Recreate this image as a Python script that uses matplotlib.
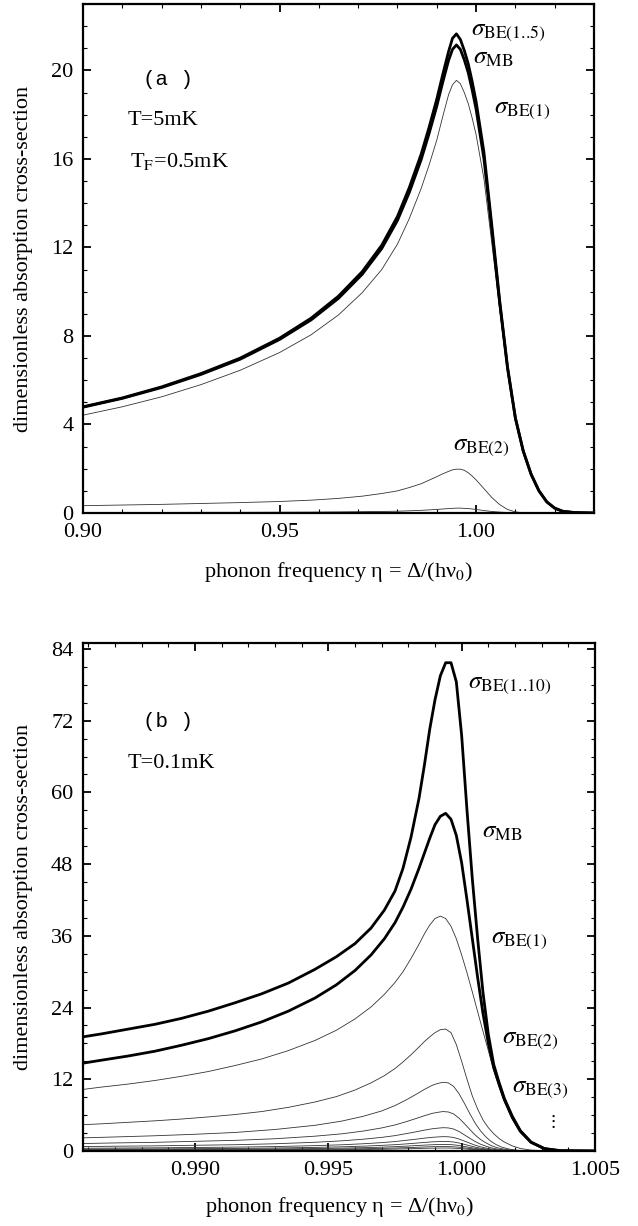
import matplotlib
matplotlib.use('Agg')
import matplotlib.pyplot as plt
from matplotlib.ticker import MultipleLocator

plt.rcParams['font.family'] = ['Liberation Serif', 'DejaVu Serif']
plt.rcParams['mathtext.fontset'] = 'stix'

# ---- panel (a): T = 5 mK ----
eta_a = [0.900, 0.910, 0.920, 0.930, 0.940, 0.950, 0.958, 0.965, 0.971, 0.976,
         0.980, 0.983, 0.986, 0.988, 0.990, 0.9915, 0.993, 0.994, 0.995, 0.996,
         0.997, 0.998, 0.999, 1.000, 1.002, 1.004, 1.006, 1.008, 1.010, 1.012,
         1.014, 1.016, 1.018, 1.020, 1.022, 1.025, 1.030]
be_sum_a = [4.8, 5.2, 5.7, 6.3, 7.0, 7.9, 8.8, 9.8, 10.9, 12.1,
            13.4, 14.7, 16.2, 17.4, 18.7, 19.8, 20.85, 21.45, 21.65, 21.4,
            20.9, 20.3, 19.5, 18.6, 16.3, 13.0, 9.6, 6.6, 4.3, 2.8,
            1.75, 1.0, 0.5, 0.22, 0.08, 0.02, 0.0]
mb_a = [4.78, 5.18, 5.67, 6.26, 6.95, 7.84, 8.72, 9.7, 10.78, 11.95,
        13.22, 14.48, 15.95, 17.12, 18.38, 19.45, 20.45, 20.95, 21.15, 20.95,
        20.48, 19.9, 19.12, 18.25, 16.0, 12.8, 9.5, 6.55, 4.28, 2.8,
        1.75, 1.0, 0.5, 0.22, 0.08, 0.02, 0.0]
be1_a = [4.42, 4.8, 5.25, 5.8, 6.45, 7.25, 8.05, 8.95, 9.95, 11.0,
         12.15, 13.3, 14.65, 15.7, 16.85, 17.9, 18.9, 19.35, 19.55, 19.4,
         19.0, 18.5, 17.85, 17.1, 15.1, 12.2, 9.2, 6.4, 4.2, 2.75,
         1.72, 0.98, 0.49, 0.21, 0.08, 0.02, 0.0]
be2_a = [0.33, 0.36, 0.39, 0.43, 0.47, 0.52, 0.58, 0.66, 0.76, 0.88,
         1.0, 1.15, 1.32, 1.48, 1.64, 1.77, 1.88, 1.95, 1.98, 1.98,
         1.93, 1.82, 1.67, 1.5, 1.1, 0.7, 0.38, 0.16, 0.05, 0.01,
         0.0, 0.0, 0.0, 0.0, 0.0, 0.0, 0.0]
be3_a = [0.02, 0.02, 0.025, 0.03, 0.03, 0.035, 0.04, 0.05, 0.06, 0.07,
         0.08, 0.1, 0.12, 0.14, 0.16, 0.18, 0.2, 0.21, 0.22, 0.22,
         0.21, 0.2, 0.18, 0.16, 0.11, 0.07, 0.04, 0.02, 0.005, 0.0,
         0.0, 0.0, 0.0, 0.0, 0.0, 0.0, 0.0]

# ---- panel (b): T = 0.1 mK, large curves ----
eta_b = [0.9858, 0.9865, 0.9875, 0.9885, 0.9895, 0.9905, 0.9915, 0.9925,
         0.9935, 0.9945, 0.9953, 0.9960, 0.9966, 0.9971, 0.9975, 0.9978,
         0.9981, 0.9984, 0.9986, 0.9988, 0.9990, 0.9992, 0.9994, 0.9996,
         0.9998, 1.0000, 1.0002, 1.0004, 1.0006, 1.0008, 1.0010, 1.0012,
         1.0014, 1.0016, 1.0019, 1.0022, 1.0026, 1.0031, 1.0037, 1.0050]
be_sum_b = [19.1, 19.6, 20.4, 21.2, 22.2, 23.4, 24.8, 26.3,
            28.1, 30.4, 32.5, 34.7, 37.3, 40.3, 43.5, 47.3,
            52.5, 59.0, 64.5, 70.5, 75.5, 79.5, 81.7, 81.7,
            78.5, 69.5, 57.0, 45.5, 35.5, 26.5, 19.5, 14.5,
            11.5, 8.8, 5.8, 3.4, 1.5, 0.4, 0.05, 0.0]
mb_b = [14.7, 15.2, 15.9, 16.7, 17.7, 18.8, 20.1, 21.6,
        23.4, 25.6, 27.8, 30.2, 32.8, 35.5, 38.2, 40.8,
        43.8, 47.3, 49.8, 52.3, 54.6, 56.0, 56.5, 55.5,
        52.8, 48.2, 42.0, 35.5, 29.0, 23.0, 18.0, 14.0,
        11.2, 8.6, 5.6, 3.3, 1.45, 0.4, 0.05, 0.0]
be1_b = [10.3, 10.7, 11.2, 11.8, 12.5, 13.3, 14.3, 15.4,
         16.8, 18.5, 20.2, 22.1, 24.1, 26.2, 28.2, 30.0,
         32.2, 34.6, 36.3, 37.8, 38.9, 39.3, 38.9, 37.6,
         35.5, 32.8, 29.8, 26.6, 23.3, 20.0, 16.8, 13.5,
         10.8, 8.3, 5.3, 3.1, 1.35, 0.35, 0.04, 0.0]
be2_b = [4.4, 4.55, 4.8, 5.05, 5.35, 5.7, 6.1, 6.6,
         7.3, 8.2, 9.1, 10.2, 11.4, 12.6, 13.8, 14.9,
         16.1, 17.4, 18.3, 19.1, 19.8, 20.3, 20.4, 19.8,
         17.8, 15.0, 12.0, 9.2, 7.0, 5.2, 3.9, 2.9,
         2.1, 1.5, 0.85, 0.42, 0.15, 0.03, 0.0, 0.0]

# ---- panel (b): small curves BE(3) .. BE(10) ----
eta_bs = [0.9858, 0.9870, 0.9885, 0.9900, 0.9915, 0.9930, 0.9945, 0.9955, 0.9963,
          0.9970, 0.9975, 0.9979, 0.9983, 0.9986, 0.9989, 0.9991, 0.9993, 0.9995,
          0.9997, 0.9999, 1.0001, 1.0003, 1.0005, 1.0007, 1.0009, 1.0011, 1.0013,
          1.0015, 1.0018, 1.0021, 1.0025, 1.0030, 1.0036, 1.0050]
be3_b = [2.2, 2.35, 2.55, 2.8, 3.1, 3.6, 4.3, 5.0, 5.8,
         6.7, 7.6, 8.5, 9.5, 10.3, 11.0, 11.3, 11.5, 11.4,
         10.8, 9.6, 8.0, 6.3, 4.7, 3.4, 2.4, 1.6, 1.05,
         0.65, 0.3, 0.12, 0.04, 0.0, 0.0, 0.0]
be4_b = [1.25, 1.35, 1.45, 1.62, 1.78, 2.05, 2.48, 2.87, 3.33,
         3.86, 4.36, 4.88, 5.45, 5.9, 6.3, 6.47, 6.6, 6.53,
         6.2, 5.5, 4.6, 3.63, 2.7, 1.95, 1.39, 0.92, 0.59,
         0.38, 0.17, 0.07, 0.0, 0.0, 0.0, 0.0]
be5_b = [0.74, 0.8, 0.86, 0.96, 1.05, 1.21, 1.46, 1.7, 1.97,
         2.28, 2.57, 2.89, 3.22, 3.49, 3.72, 3.82, 3.9, 3.86,
         3.67, 3.26, 2.71, 2.15, 1.6, 1.15, 0.82, 0.55, 0.35,
         0.22, 0.1, 0.04, 0.0, 0.0, 0.0, 0.0]
be6_b = [0.46, 0.49, 0.53, 0.59, 0.65, 0.74, 0.9, 1.04, 1.21,
         1.4, 1.58, 1.78, 1.98, 2.15, 2.29, 2.35, 2.4, 2.38,
         2.26, 2.0, 1.67, 1.32, 0.98, 0.71, 0.5, 0.34, 0.22,
         0.14, 0.06, 0.02, 0.0, 0.0, 0.0, 0.0]
be7_b = [0.3, 0.33, 0.35, 0.39, 0.43, 0.5, 0.6, 0.7, 0.81,
         0.94, 1.06, 1.18, 1.32, 1.43, 1.53, 1.57, 1.6, 1.58,
         1.5, 1.34, 1.11, 0.88, 0.66, 0.47, 0.34, 0.22, 0.14,
         0.09, 0.04, 0.02, 0.0, 0.0, 0.0, 0.0]
be8_b = [0.21, 0.23, 0.24, 0.27, 0.3, 0.34, 0.41, 0.48, 0.56,
         0.64, 0.73, 0.81, 0.91, 0.98, 1.05, 1.08, 1.1, 1.09,
         1.03, 0.92, 0.76, 0.6, 0.45, 0.32, 0.23, 0.15, 0.1,
         0.06, 0.03, 0.01, 0.0, 0.0, 0.0, 0.0]
be9_b = [0.14, 0.15, 0.17, 0.18, 0.2, 0.23, 0.28, 0.33, 0.38,
         0.44, 0.5, 0.56, 0.62, 0.67, 0.72, 0.74, 0.75, 0.74,
         0.7, 0.63, 0.52, 0.41, 0.31, 0.22, 0.16, 0.1, 0.07,
         0.04, 0.02, 0.01, 0.0, 0.0, 0.0, 0.0]
be10_b = [0.1, 0.1, 0.11, 0.12, 0.14, 0.16, 0.19, 0.22, 0.25,
          0.29, 0.33, 0.37, 0.41, 0.45, 0.48, 0.49, 0.5, 0.5,
          0.47, 0.42, 0.35, 0.28, 0.21, 0.15, 0.1, 0.07, 0.05,
          0.03, 0.01, 0.0, 0.0, 0.0, 0.0, 0.0]

THICK = 2.0
THIN = 0.6
THIN_COLOR = '#333333'
FS = 16
SIG_FS = 18


def style_axes(ax, xmajor, xminor, ymajor, yminor, xlab_y):
    for sp in ax.spines.values():
        sp.set_linewidth(1.6)
    ax.xaxis.set_major_locator(MultipleLocator(xmajor))
    ax.xaxis.set_minor_locator(MultipleLocator(xminor))
    ax.yaxis.set_major_locator(MultipleLocator(ymajor))
    ax.yaxis.set_minor_locator(MultipleLocator(yminor))
    ax.tick_params(which='both', direction='in', top=True, right=True,
                   labelsize=FS)
    ax.tick_params(which='major', length=6, width=1.3, pad=7)
    ax.tick_params(which='minor', length=3, width=0.8)
    ax.set_ylabel('dimensionless absorption cross-section', fontsize=FS)
    ax.set_xlabel('phonon frequency \u03b7 = \u0394/(h\u03bd$_0$)', fontsize=FS)
    ax.yaxis.set_label_coords(-0.098, 0.5)
    ax.xaxis.set_label_coords(0.5, xlab_y)


def sig(sub):
    return r'$\sigma_{\mathrm{' + sub + '}}$'


fig = plt.figure(figsize=(6.38, 12.26), dpi=100)

# panel (a)
ax1 = fig.add_axes([83 / 638, 1 - 513 / 1226, 511 / 638, 509 / 1226])
for ys in [be3_a, be2_a, be1_a]:
    ax1.plot(eta_a, ys, color=THIN_COLOR, lw=THIN)
ax1.plot(eta_a, mb_a, color='black', lw=THICK)
ax1.plot(eta_a, be_sum_a, color='black', lw=THICK)
ax1.set_xlim(0.90, 1.03)
ax1.set_ylim(0, 23)
style_axes(ax1, 0.05, 0.01, 4, 1, -0.092)
ax1.xaxis.set_major_formatter(plt.FormatStrFormatter('%.2f'))

ax1.text(0.118, 0.851, '(a )', transform=ax1.transAxes, fontsize=FS - 1,
         family='Liberation Mono', va='center')
ax1.text(0.088, 0.772, 'T=5mK', transform=ax1.transAxes, fontsize=FS,
         va='center')
ax1.text(0.092, 0.690, r'T$_\mathrm{F}$=0.5mK', transform=ax1.transAxes,
         fontsize=FS, va='center')
ax1.text(0.9987, 21.75, sig(r'BE(1.\!.\!5)'), fontsize=SIG_FS, va='center')
ax1.text(0.9993, 20.55, sig('MB'), fontsize=SIG_FS, va='center')
ax1.text(1.0045, 18.2, sig('BE(1)'), fontsize=SIG_FS, va='center')
ax1.text(0.9941, 3.0, sig('BE(2)'), fontsize=SIG_FS, va='center')

# panel (b)
ax2 = fig.add_axes([83 / 638, 1 - 1151 / 1226, 512 / 638, 508 / 1226])
for ys in [be10_b, be9_b, be8_b, be7_b, be6_b, be5_b, be4_b, be3_b]:
    ax2.plot(eta_bs, ys, color=THIN_COLOR, lw=THIN)
for ys in [be2_b, be1_b]:
    ax2.plot(eta_b, ys, color=THIN_COLOR, lw=THIN)
ax2.plot(eta_b, mb_b, color='black', lw=THICK)
ax2.plot(eta_b, be_sum_b, color='black', lw=THICK)
ax2.set_xlim(0.9858, 1.005)
ax2.set_ylim(0, 85)
style_axes(ax2, 0.005, 0.001, 12, 3, -0.087)
ax2.xaxis.set_major_formatter(plt.FormatStrFormatter('%.3f'))

ax2.text(0.118, 0.845, '(b )', transform=ax2.transAxes, fontsize=FS - 1,
         family='Liberation Mono', va='center')
ax2.text(0.088, 0.762, 'T=0.1mK', transform=ax2.transAxes, fontsize=FS,
         va='center')
ax2.text(1.00024, 78.0, sig(r'BE(1.\!.\!10)'), fontsize=SIG_FS, va='center')
ax2.text(1.00076, 53.3, sig('MB'), fontsize=SIG_FS, va='center')
ax2.text(1.0011, 35.3, sig('BE(1)'), fontsize=SIG_FS, va='center')
ax2.text(1.0015, 18.6, sig('BE(2)'), fontsize=SIG_FS, va='center')
ax2.text(1.0019, 10.3, sig('BE(3)'), fontsize=SIG_FS, va='center')
ax2.text(1.0034, 5.0, r'$\vdots$', fontsize=13, va='center', ha='center')

fig.savefig('out.png', dpi=100)
